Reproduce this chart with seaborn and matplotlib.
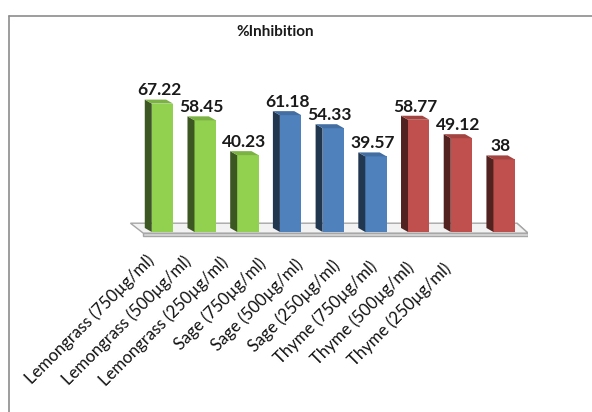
import matplotlib
matplotlib.use("Agg")
import matplotlib.pyplot as plt
import matplotlib.colors as mcolors
from matplotlib.patches import Polygon
from matplotlib.lines import Line2D
from matplotlib.transforms import offset_copy
import numpy as np
import pandas as pd
import seaborn as sns

labels = ["Lemongrass (750µg/ml)", "Lemongrass (500µg/ml)", "Lemongrass (250µg/ml)",
          "Sage (750µg/ml)", "Sage (500µg/ml)", "Sage (250µg/ml)",
          "Thyme (750µg/ml)", "Thyme (500µg/ml)", "Thyme (250µg/ml)"]
values = [67.22, 58.45, 40.23, 61.18, 54.33, 39.57, 58.77, 49.12, 38]
groups = ["Lemongrass"] * 3 + ["Sage"] * 3 + ["Thyme"] * 3
value_text = ["67.22", "58.45", "40.23", "61.18", "54.33", "39.57", "58.77", "49.12", "38"]
title = "%Inhibition"
palette = {"Lemongrass": "#92D050", "Sage": "#4F81BD", "Thyme": "#C0504D"}

sns.set_theme(style="white")
plt.rcParams["font.family"] = ["Lato", "DejaVu Sans"]

df = pd.DataFrame({"label": labels, "value": values, "group": groups})

fig = plt.figure(figsize=(5.92, 4.12), dpi=100)
ax = fig.add_axes([0.2167, 0.4184, 0.6745, 0.3662])
sns.barplot(data=df, x="label", y="value", hue="group", palette=palette,
            dodge=False, width=0.5, legend=False, ax=ax, saturation=1,
            order=labels, zorder=3)
ax.set_xlim(-0.8, 8.55)
ax.set_ylim(-4, 75)
for s in ax.spines.values():
    s.set_visible(False)
ax.set_yticks([])
ax.set_xlabel("")
ax.set_ylabel("")
ax.set_xticks(range(len(labels)))
ax.set_xticklabels([])
ax.tick_params(axis="x", length=0)

# category labels, compressed by the 3-D perspective of the original
for i, lab in enumerate(labels):
    tr = offset_copy(ax.transData, fig=fig, x=-16.5 - 5.6 * i, y=-20.0 - 1.0 * i, units="dots")
    ax.text(i, 0, lab, transform=tr, rotation=45, ha="right", va="top",
            rotation_mode="anchor", fontsize=12.1, color="#111111", clip_on=False)

# pixel depth offset -> data units
inv = ax.transData.inverted()
p0 = ax.transData.transform((0, 0))
p1 = inv.transform((p0[0] - 7, p0[1] + 4))
ddx, ddy = p1[0], p1[1]

# floor
floor_top = Polygon([(-0.45, -0.6), (8.56, -0.6), (8.3, 4.6), (-0.75, 4.6)],
                    closed=True, facecolor="#F2F2F2", edgecolor="#A6A6A6", lw=1, zorder=1)
floor_front = Polygon([(-0.45, -0.6), (8.56, -0.6), (8.56, -2.2), (-0.45, -2.2)],
                      closed=True, facecolor="#D9D9D9", edgecolor="#A6A6A6", lw=1, zorder=1)
floor_side = Polygon([(8.56, -0.6), (8.3, 4.6), (8.3, 3.0), (8.56, -2.2)],
                     closed=True, facecolor="#D9D9D9", edgecolor="#A6A6A6", lw=1, zorder=1)
ax.add_patch(floor_side)
ax.add_patch(floor_front)
ax.add_patch(floor_top)

bars = [p for p in ax.patches if getattr(p, "get_height", None) and p.get_height() > 0
        and p not in (floor_top, floor_front, floor_side)]
bars = sorted(bars, key=lambda p: p.get_x())
for p, txt in zip(bars, value_text):
    x0 = p.get_x()
    w = p.get_width()
    h = p.get_height()
    fc = np.array(mcolors.to_rgb(p.get_facecolor()))
    side = Polygon([(x0, 0), (x0, h), (x0 + ddx, h + ddy), (x0 + ddx, ddy)],
                   closed=True, facecolor=fc * 0.42, edgecolor="none", zorder=3)
    top = Polygon([(x0, h), (x0 + w, h), (x0 + w + ddx, h + ddy), (x0 + ddx, h + ddy)],
                  closed=True, facecolor=fc * 0.85, edgecolor="none", zorder=3)
    ax.add_patch(side)
    ax.add_patch(top)
    p.set_edgecolor("none")
    ax.text(x0 + w / 2 + ddx / 2, h + ddy + 0.6, txt, ha="center", va="bottom",
            fontsize=12.5, fontweight="bold", color="#1a1a1a", zorder=5)

fig.text(0.4645, 0.922, title, ha="center", va="center", fontsize=11,
         fontweight="bold", color="#1a1a1a")

# chart frame
fig.add_artist(Line2D([9 / 592, 1.0], [1 - 16 / 412, 1 - 16 / 412], color="#8C8C8C", lw=1.2))
fig.add_artist(Line2D([9 / 592, 9 / 592], [0, 1 - 16 / 412], color="#8C8C8C", lw=1.2))

fig.savefig("out.png", dpi=100)
